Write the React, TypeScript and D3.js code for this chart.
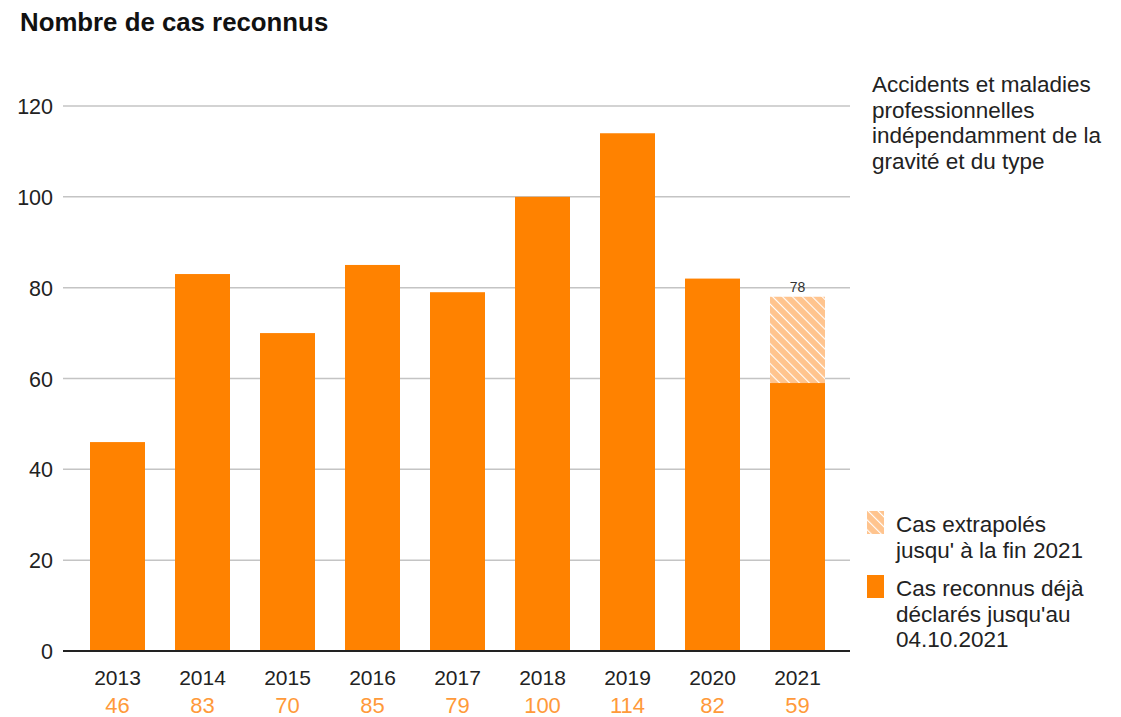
import { scaleBand, scaleLinear } from "d3";

const years = ["2013", "2014", "2015", "2016", "2017", "2018", "2019", "2020", "2021"];
const recognised = [46, 83, 70, 85, 79, 100, 114, 82, 59];
const extrapolatedYear = "2021";
const extrapolatedTotal = 78;
const yTicks = [0, 20, 40, 60, 80, 100, 120];
const noteLines = [
    "Accidents et maladies",
    "professionnelles",
    "indépendamment de la",
    "gravité et du type",
];
const legendItems = [
    { lines: ["Cas extrapolés", "jusqu' à la fin 2021"], hatched: true },
    { lines: ["Cas reconnus déjà", "déclarés jusqu'au", "04.10.2021"], hatched: false },
];

const ORANGE = "#ff8200";
const LIGHT = "#ffc48e";
const VALUE_COLOR = "#ff9a3a";
const FONT = "'Liberation Sans', Arial, sans-serif";

export default function App() {
    const width = 1121;
    const height = 717;

    const x = scaleBand()
        .domain(years)
        .range([75, 840])
        .paddingInner(0.353)
        .paddingOuter(0.1765);
    const y = scaleLinear().domain([0, 120]).range([651, 106]);

    const gridLeft = 63;
    const gridRight = 850;

    return (
        <svg
            width={width}
            height={height}
            style={{ position: "absolute", left: 0, top: 0, background: "#fff" }}
            fontFamily={FONT}
        >
            <defs>
                <pattern
                    id="hatch"
                    patternUnits="userSpaceOnUse"
                    width={7}
                    height={7}
                    patternTransform="rotate(-45)"
                >
                    <rect width={7} height={7} fill={LIGHT} />
                    <line x1={0} y1={0} x2={0} y2={7} stroke="#fff" strokeWidth={2.2} />
                </pattern>
            </defs>

            <text x={20} y={31} fontSize={25.8} fontWeight="bold" fill="#111">
                Nombre de cas reconnus
            </text>

            {/* grid + y ticks */}
            {yTicks.map((t) => (
                <g key={t}>
                    {t > 0 && (
                        <line
                            x1={gridLeft}
                            x2={gridRight}
                            y1={y(t)}
                            y2={y(t)}
                            stroke="#c4c4c4"
                            strokeWidth={1.5}
                        />
                    )}
                    <text
                        x={53}
                        y={y(t) + 8}
                        textAnchor="end"
                        fontSize={21.5}
                        fill="#222"
                    >
                        {t}
                    </text>
                </g>
            ))}

            {/* extrapolated part */}
            {years.map((yr, i) =>
                yr === extrapolatedYear ? (
                    <g key={"ex" + yr}>
                        <rect
                            x={x(yr)}
                            width={x.bandwidth()}
                            y={y(extrapolatedTotal)}
                            height={y(recognised[i]) - y(extrapolatedTotal)}
                            fill="url(#hatch)"
                        />
                        <text
                            x={(x(yr) ?? 0) + x.bandwidth() / 2}
                            y={y(extrapolatedTotal) - 5}
                            textAnchor="middle"
                            fontSize={14}
                            fill="#333"
                        >
                            {extrapolatedTotal}
                        </text>
                    </g>
                ) : null,
            )}

            {/* bars */}
            {years.map((yr, i) => (
                <rect
                    key={yr}
                    x={x(yr)}
                    width={x.bandwidth()}
                    y={y(recognised[i])}
                    height={y(0) - y(recognised[i])}
                    fill={ORANGE}
                />
            ))}

            <line
                x1={gridLeft}
                x2={gridRight}
                y1={y(0)}
                y2={y(0)}
                stroke="#222"
                strokeWidth={2}
            />

            {/* x labels + values */}
            {years.map((yr, i) => {
                const cx = (x(yr) ?? 0) + x.bandwidth() / 2;
                return (
                    <g key={"l" + yr}>
                        <text x={cx} y={685} textAnchor="middle" fontSize={21} fill="#222">
                            {yr}
                        </text>
                        <text x={cx} y={713} textAnchor="middle" fontSize={22} fill={VALUE_COLOR}>
                            {recognised[i]}
                        </text>
                    </g>
                );
            })}

            {/* note */}
            {noteLines.map((l, i) => (
                <text key={l} x={872} y={92 + i * 25.5} fontSize={22.5} fill="#222">
                    {l}
                </text>
            ))}

            {/* legend */}
            {legendItems.map((item, i) => {
                const top = 511 + i * 64;
                return (
                    <g key={i}>
                        <rect
                            x={867}
                            y={top}
                            width={17}
                            height={23}
                            fill={item.hatched ? "url(#hatch)" : ORANGE}
                        />
                        {item.lines.map((l, j) => (
                            <text key={j} x={896} y={top + 21 + j * 25.5} fontSize={22.5} fill="#222">
                                {l}
                            </text>
                        ))}
                    </g>
                );
            })}
        </svg>
    );
}
